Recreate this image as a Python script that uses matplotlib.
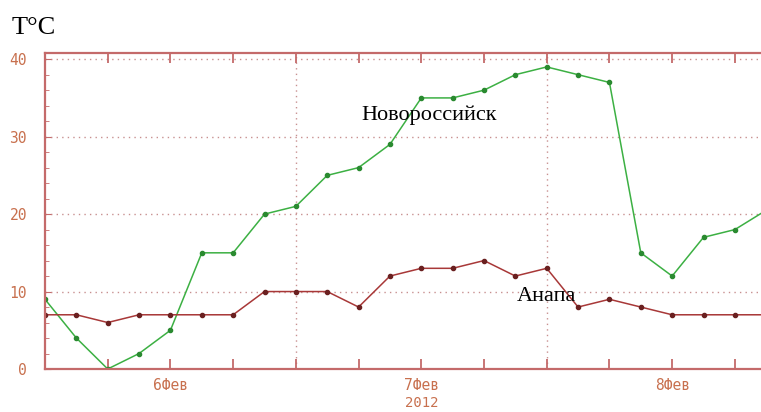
import matplotlib
matplotlib.use("Agg")
import matplotlib.pyplot as plt
from matplotlib.ticker import MultipleLocator, NullFormatter

# hours since 6 Feb 2012 00:00
hours = [0, 3, 6, 9, 12, 15, 18, 21, 24, 27, 30, 33,
         36, 39, 42, 45, 48, 51, 54, 57, 60, 63, 66, 69]
novoross = [9, 4, 0, 2, 5, 15, 15, 20, 21, 25, 26, 29,
            35, 35, 36, 38, 39, 38, 37, 15, 12, 17, 18, 20.5]
anapa = [7, 7, 6, 7, 7, 7, 7, 10, 10, 10, 8, 12,
         13, 13, 14, 12, 13, 8, 9, 8, 7, 7, 7, 7]
day_pos = [12, 36, 60]
day_labels = ["6Фев", "7Фев", "8Фев"]
year_label = "2012"

axis_col = "#c46a6a"
label_col = "#c8704e"
grid_col = "#c89090"

fig = plt.figure(figsize=(7.61, 4.12), dpi=100)
ax = fig.add_axes([45 / 761, 43 / 412, 716 / 761, 316 / 412])

ax.plot(hours, novoross, color="#3cb043", lw=1.1, marker="o", ms=3,
        mfc="#2a8a30", mec="#2a8a30")
ax.plot(hours, anapa, color="#a83838", lw=1.1, marker="o", ms=3,
        mfc="#6a2020", mec="#6a2020")

ax.set_xlim(0, 68.5)
ax.set_ylim(0, 40.8)

for s in ["left", "bottom", "top"]:
    ax.spines[s].set_color(axis_col)
    ax.spines[s].set_linewidth(1.6)
ax.spines["right"].set_visible(False)

# y ticks
ax.yaxis.set_major_locator(MultipleLocator(10))
ax.yaxis.set_minor_locator(MultipleLocator(2))
ax.tick_params(axis="y", which="both", direction="in", colors=axis_col,
               labelcolor=label_col, labelsize=10.5, pad=13)
ax.tick_params(axis="y", which="major", length=4)
ax.tick_params(axis="y", which="minor", length=3)
for t in ax.get_yticklabels():
    t.set_family("DejaVu Sans Mono")

# x ticks every 6 h, labels at noon of each day
ax.xaxis.set_major_locator(MultipleLocator(6))
ax.xaxis.set_major_formatter(NullFormatter())
ax.tick_params(axis="x", which="major", direction="in", length=7, width=1.3,
               colors=axis_col, top=True)
for x, lab in zip(day_pos, day_labels):
    ax.text(x, -1.2, lab, ha="center", va="top", color=label_col,
            fontsize=10.5, family="DejaVu Sans Mono", clip_on=False)
ax.text(36, -3.5, year_label, ha="center", va="top", color=label_col,
        fontsize=10, family="DejaVu Sans Mono", clip_on=False)

# dotted grid
for y in [10, 20, 30, 40]:
    ax.axhline(y, color=grid_col, lw=1, ls=(0, (1, 3)), zorder=0)
for x in [24, 48]:
    ax.axvline(x, color=grid_col, lw=1, ls=(0, (1, 3)), zorder=0)

ax.text(30.3, 32.8, "Новороссийск", family="Liberation Serif", fontsize=16,
        color="black", ha="left", va="center")
ax.text(48.0, 9.3, "Анапа", family="Liberation Serif", fontsize=16,
        color="black", ha="center", va="center")

fig.text(12 / 761, 1 - 28 / 412, "T°C", family="Liberation Serif",
         fontsize=19, color="black", ha="left", va="center")

fig.savefig("out.png", dpi=100)
